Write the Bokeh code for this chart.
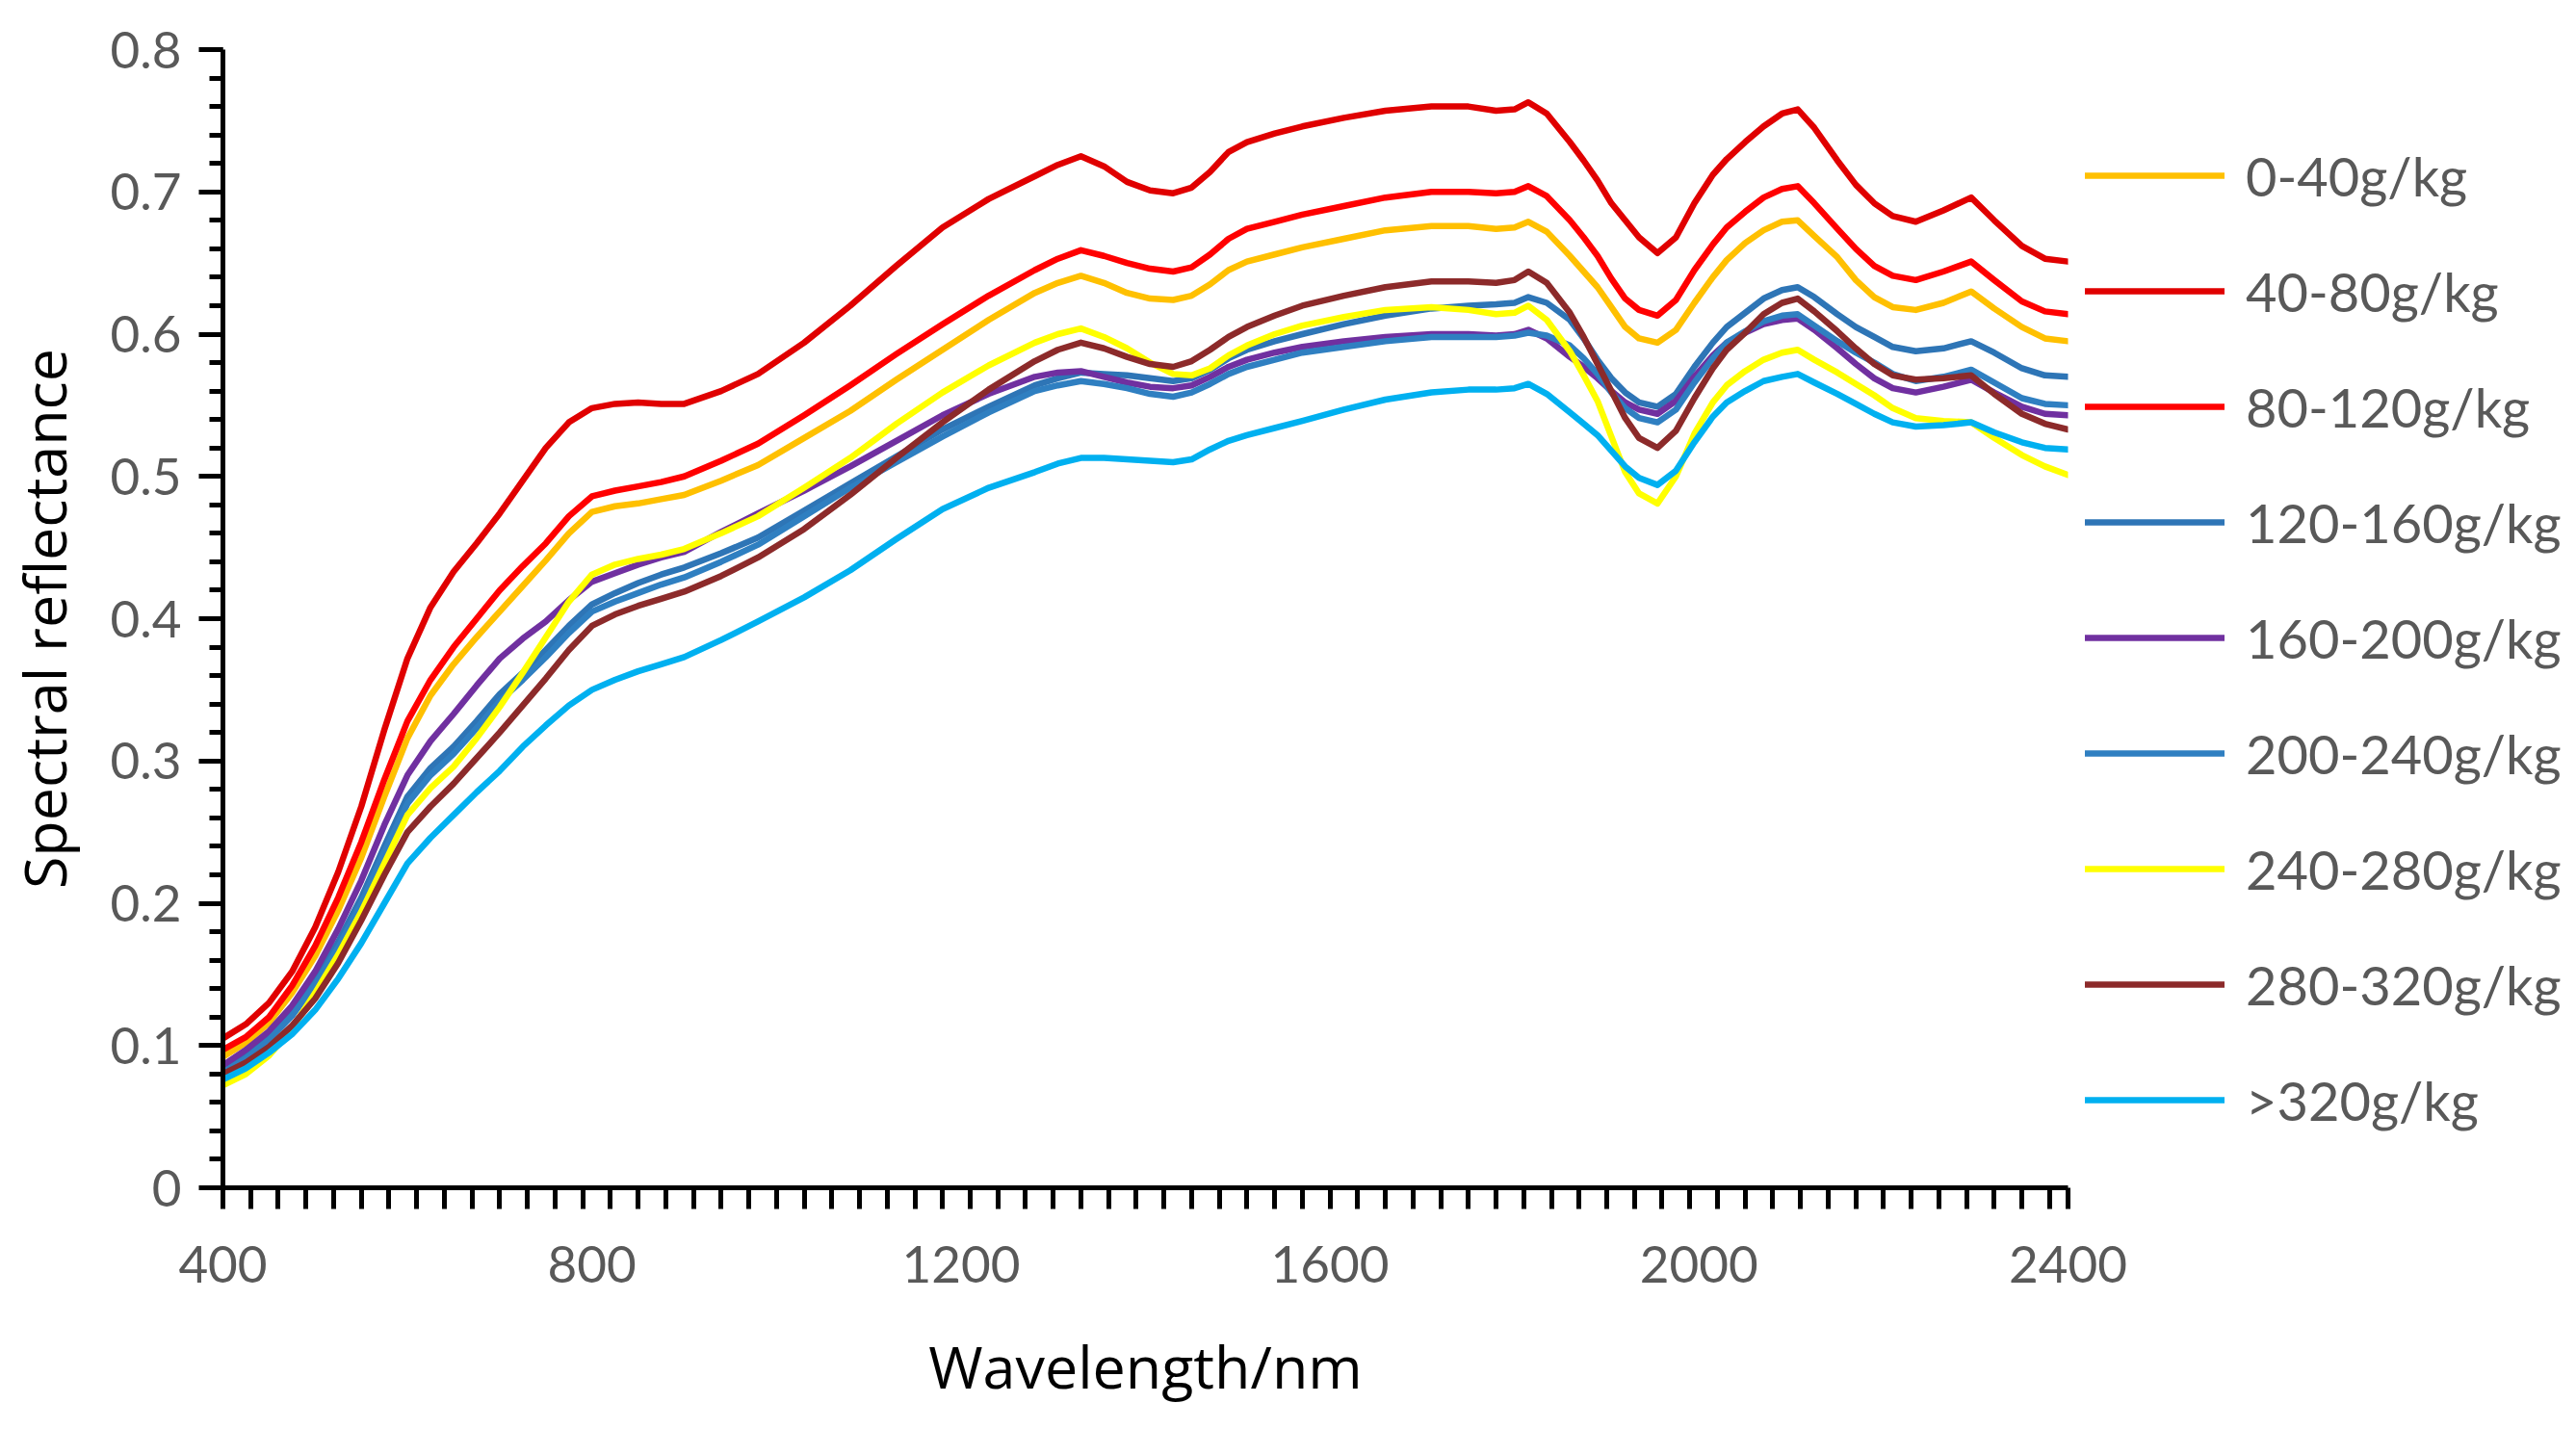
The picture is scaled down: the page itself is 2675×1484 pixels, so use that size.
from bokeh.plotting import figure
from bokeh.models import (Range1d, FixedTicker, CustomJSTickFormatter, Legend,
                          LegendItem, SingleIntervalTicker)
from bokeh.embed import file_html
from bokeh.resources import INLINE

wavelength = [400, 425, 450, 475, 500, 525, 550, 575, 600, 625, 650, 675, 700, 725,
              750, 775, 800, 825, 850, 875, 900, 940, 980, 1030, 1080, 1130, 1180,
              1230, 1280, 1305, 1330, 1355, 1380, 1405, 1430, 1450, 1470, 1490, 1510,
              1540, 1570, 1615, 1660, 1710, 1750, 1780, 1800, 1815, 1835, 1860, 1875,
              1890, 1905, 1920, 1935, 1955, 1975, 1995, 2015, 2030, 2050, 2070, 2090,
              2107, 2125, 2150, 2170, 2190, 2210, 2235, 2265, 2295, 2320, 2350, 2375,
              2400]

s_40_80 = [0.105, 0.115, 0.130, 0.152, 0.183, 0.222, 0.268, 0.322, 0.372, 0.408,
           0.433, 0.453, 0.474, 0.497, 0.520, 0.538, 0.548, 0.551, 0.552, 0.551,
           0.551, 0.560, 0.572, 0.594, 0.620, 0.648, 0.675, 0.695, 0.711, 0.719,
           0.725, 0.718, 0.707, 0.701, 0.699, 0.703, 0.714, 0.728, 0.735, 0.741,
           0.746, 0.752, 0.757, 0.760, 0.760, 0.757, 0.758, 0.763, 0.755, 0.735,
           0.722, 0.708, 0.692, 0.680, 0.668, 0.657, 0.668, 0.692, 0.712, 0.723,
           0.735, 0.746, 0.755, 0.758, 0.745, 0.722, 0.705, 0.692, 0.683, 0.679,
           0.687, 0.696, 0.680, 0.662, 0.653, 0.651]
s_80_120 = [0.097, 0.106, 0.120, 0.142, 0.170, 0.204, 0.243, 0.287, 0.328, 0.357,
            0.380, 0.400, 0.420, 0.437, 0.453, 0.472, 0.486, 0.490, 0.493, 0.496,
            0.500, 0.511, 0.523, 0.543, 0.564, 0.586, 0.607, 0.627, 0.645, 0.653,
            0.659, 0.655, 0.650, 0.646, 0.644, 0.647, 0.656, 0.667, 0.674, 0.679,
            0.684, 0.690, 0.696, 0.700, 0.700, 0.699, 0.700, 0.704, 0.697, 0.680,
            0.668, 0.655, 0.639, 0.625, 0.617, 0.613, 0.624, 0.645, 0.663, 0.675,
            0.686, 0.696, 0.702, 0.704, 0.692, 0.674, 0.660, 0.648, 0.641, 0.638,
            0.644, 0.651, 0.638, 0.623, 0.616, 0.614]
s_0_40 = [0.092, 0.102, 0.116, 0.137, 0.163, 0.195, 0.232, 0.275, 0.316, 0.346,
          0.368, 0.387, 0.405, 0.423, 0.441, 0.460, 0.475, 0.479, 0.481, 0.484,
          0.487, 0.497, 0.508, 0.527, 0.546, 0.568, 0.589, 0.610, 0.629, 0.636,
          0.641, 0.636, 0.629, 0.625, 0.624, 0.627, 0.635, 0.645, 0.651, 0.656,
          0.661, 0.667, 0.673, 0.676, 0.676, 0.674, 0.675, 0.679, 0.672, 0.655,
          0.644, 0.633, 0.619, 0.605, 0.597, 0.594, 0.603, 0.622, 0.640, 0.652,
          0.664, 0.673, 0.679, 0.680, 0.669, 0.654, 0.638, 0.626, 0.619, 0.617,
          0.622, 0.630, 0.618, 0.605, 0.597, 0.595]
s_120_160 = [0.083, 0.093, 0.106, 0.124, 0.146, 0.173, 0.204, 0.240, 0.275, 0.295,
             0.310, 0.328, 0.347, 0.362, 0.378, 0.395, 0.410, 0.418, 0.425, 0.431,
             0.436, 0.446, 0.457, 0.476, 0.495, 0.514, 0.533, 0.549, 0.564, 0.569,
             0.573, 0.572, 0.571, 0.569, 0.567, 0.569, 0.575, 0.583, 0.589, 0.595,
             0.600, 0.607, 0.613, 0.618, 0.620, 0.621, 0.622, 0.626, 0.622, 0.610,
             0.597, 0.582, 0.569, 0.559, 0.552, 0.549, 0.558, 0.577, 0.594, 0.605,
             0.615, 0.625, 0.631, 0.633, 0.626, 0.614, 0.605, 0.598, 0.591, 0.588,
             0.590, 0.595, 0.587, 0.576, 0.571, 0.570]
s_160_200 = [0.086, 0.097, 0.110, 0.128, 0.152, 0.182, 0.216, 0.255, 0.290, 0.314,
             0.333, 0.353, 0.372, 0.386, 0.398, 0.413, 0.426, 0.432, 0.438, 0.443,
             0.447, 0.461, 0.474, 0.490, 0.507, 0.525, 0.543, 0.558, 0.570, 0.573,
             0.574, 0.570, 0.566, 0.563, 0.562, 0.564, 0.570, 0.577, 0.582, 0.587,
             0.591, 0.595, 0.598, 0.600, 0.600, 0.599, 0.600, 0.603, 0.597, 0.584,
             0.577, 0.569, 0.560, 0.552, 0.547, 0.544, 0.553, 0.570, 0.585, 0.594,
             0.601, 0.607, 0.610, 0.611, 0.603, 0.590, 0.579, 0.569, 0.562, 0.559,
             0.563, 0.568, 0.559, 0.549, 0.544, 0.543]
s_200_240 = [0.081, 0.091, 0.104, 0.121, 0.143, 0.169, 0.200, 0.236, 0.270, 0.290,
             0.305, 0.323, 0.342, 0.357, 0.373, 0.390, 0.405, 0.412, 0.418, 0.424,
             0.429, 0.440, 0.452, 0.472, 0.492, 0.510, 0.528, 0.545, 0.560, 0.564,
             0.567, 0.565, 0.562, 0.558, 0.556, 0.559, 0.565, 0.572, 0.577, 0.582,
             0.587, 0.591, 0.595, 0.598, 0.598, 0.598, 0.599, 0.601, 0.599, 0.592,
             0.583, 0.572, 0.559, 0.548, 0.541, 0.538, 0.547, 0.566, 0.583, 0.594,
             0.602, 0.609, 0.613, 0.614, 0.606, 0.595, 0.587, 0.580, 0.572, 0.567,
             0.570, 0.575, 0.566, 0.555, 0.551, 0.550]
s_240_280 = [0.072, 0.080, 0.093, 0.112, 0.137, 0.164, 0.194, 0.228, 0.262, 0.281,
             0.296, 0.316, 0.338, 0.362, 0.387, 0.412, 0.431, 0.438, 0.442, 0.445,
             0.449, 0.460, 0.472, 0.492, 0.513, 0.537, 0.559, 0.578, 0.594, 0.600,
             0.604, 0.598, 0.590, 0.580, 0.572, 0.571, 0.576, 0.585, 0.592, 0.600,
             0.606, 0.612, 0.617, 0.619, 0.617, 0.614, 0.615, 0.620, 0.610, 0.588,
             0.571, 0.553, 0.528, 0.503, 0.488, 0.481, 0.500, 0.530, 0.552, 0.564,
             0.574, 0.582, 0.587, 0.589, 0.582, 0.573, 0.565, 0.557, 0.548, 0.541,
             0.539, 0.538, 0.527, 0.515, 0.507, 0.501]
s_280_320 = [0.080, 0.088, 0.099, 0.114, 0.133, 0.158, 0.188, 0.220, 0.250, 0.268,
             0.284, 0.302, 0.320, 0.339, 0.358, 0.378, 0.395, 0.403, 0.409, 0.414,
             0.419, 0.430, 0.443, 0.463, 0.487, 0.513, 0.538, 0.561, 0.581, 0.589,
             0.594, 0.590, 0.584, 0.579, 0.577, 0.581, 0.589, 0.598, 0.605, 0.613,
             0.620, 0.627, 0.633, 0.637, 0.637, 0.636, 0.638, 0.644, 0.636, 0.615,
             0.598, 0.579, 0.560, 0.541, 0.527, 0.520, 0.532, 0.555, 0.576, 0.589,
             0.601, 0.614, 0.622, 0.625, 0.616, 0.602, 0.590, 0.579, 0.571, 0.568,
             0.569, 0.571, 0.558, 0.544, 0.537, 0.533]
s_320 = [0.076, 0.084, 0.095, 0.108, 0.125, 0.147, 0.172, 0.200, 0.228, 0.246,
         0.262, 0.278, 0.293, 0.310, 0.325, 0.339, 0.350, 0.357, 0.363, 0.368,
         0.373, 0.385, 0.398, 0.415, 0.434, 0.456, 0.477, 0.492, 0.503, 0.509,
         0.513, 0.513, 0.512, 0.511, 0.510, 0.512, 0.519, 0.525, 0.529, 0.534,
         0.539, 0.547, 0.554, 0.559, 0.561, 0.561, 0.562, 0.565, 0.558, 0.545,
         0.537, 0.529, 0.518, 0.507, 0.499, 0.494, 0.504, 0.524, 0.542, 0.552,
         0.560, 0.567, 0.570, 0.572, 0.566, 0.558, 0.551, 0.544, 0.538, 0.535,
         0.536, 0.538, 0.531, 0.524, 0.520, 0.519]

series_names = ["0-40g/kg", "40-80g/kg", "80-120g/kg", "120-160g/kg", "160-200g/kg",
                "200-240g/kg", "240-280g/kg", "280-320g/kg", ">320g/kg"]
series_values = [s_0_40, s_40_80, s_80_120, s_120_160, s_160_200, s_200_240,
                 s_240_280, s_280_320, s_320]
series_colors = ["#FFC000", "#E00000", "#FF0000", "#2E75B6", "#7030A0", "#2F7FC1",
                 "#FFFF00", "#8C2A2A", "#00B0F0"]

x_major = [400, 800, 1200, 1600, 2000, 2400]
x_minor = list(range(400, 2400, 30)) + [2400]

p = figure(frame_width=1916, frame_height=1182, output_backend="svg",
           toolbar_location=None,
           x_range=Range1d(400, 2400), y_range=Range1d(0, 0.8),
           min_border_left=200, min_border_right=0, min_border_top=51,
           min_border_bottom=235)
p.outline_line_color = None
p.xgrid.visible = False
p.ygrid.visible = False
p.background_fill_color = "white"
p.border_fill_color = "white"

renderers = []
for name, vals, col in zip(series_names, series_values, series_colors):
    r = p.line(wavelength, vals, line_color=col, line_width=6.5, line_join="round",
               line_cap="round")
    renderers.append(r)

tick_font = "Lato"
tick_color = "#595959"

xa = p.xaxis[0]
xa.ticker = FixedTicker(ticks=x_major, minor_ticks=x_minor)
xa.major_tick_out = 0
xa.major_tick_in = 0
xa.minor_tick_out = 22
xa.minor_tick_in = 0
xa.minor_tick_line_width = 5
xa.minor_tick_line_color = "black"
xa.axis_line_width = 5
xa.axis_line_color = "black"
xa.major_label_text_font = tick_font
xa.major_label_text_font_size = "53px"
xa.major_label_text_color = tick_color
xa.major_label_standoff = 38
xa.axis_label = "Wavelength/nm"
xa.axis_label_text_font = "Open Sans"
xa.axis_label_text_font_size = "61px"
xa.axis_label_text_font_style = "normal"
xa.axis_label_text_color = "black"
xa.axis_label_standoff = 42

ya = p.yaxis[0]
ya.ticker = SingleIntervalTicker(interval=0.1, num_minor_ticks=5)
ya.formatter = CustomJSTickFormatter(code="return tick.toFixed(1).replace(/\\.0$/, '');")
ya.major_tick_out = 25
ya.major_tick_in = 0
ya.minor_tick_out = 14
ya.minor_tick_in = 0
ya.major_tick_line_width = 5
ya.minor_tick_line_width = 5
ya.axis_line_width = 5
ya.axis_line_color = "black"
ya.major_label_text_font = tick_font
ya.major_label_text_font_size = "53px"
ya.major_label_text_color = tick_color
ya.major_label_standoff = 18
ya.axis_label = "Spectral reflectance"
ya.axis_label_text_font = "Open Sans"
ya.axis_label_text_font_size = "61px"
ya.axis_label_text_font_style = "normal"
ya.axis_label_text_color = "black"
ya.axis_label_standoff = 25

legend = Legend(items=[LegendItem(label=n, renderers=[r]) for n, r in zip(series_names, renderers)],
                location=(18, 56))
legend.padding = 0
legend.margin = 0
legend.spacing = 50
legend.glyph_width = 145
legend.glyph_height = 70
legend.label_height = 70
legend.label_standoff = 22
legend.label_text_font = tick_font
legend.label_text_font_size = "56px"
legend.label_text_color = tick_color
legend.label_text_baseline = "middle"
legend.border_line_color = None
legend.background_fill_alpha = 0
p.add_layout(legend, "right")

open("out.html", "w").write(file_html(p, INLINE))
